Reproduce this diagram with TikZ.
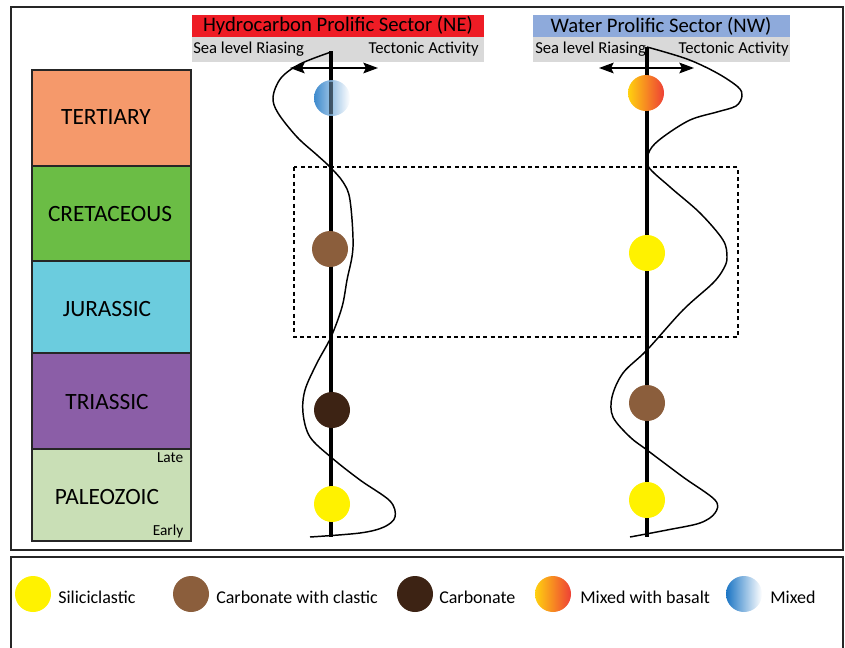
\documentclass[tikz,border=0pt]{standalone}
\usepackage{fontspec}
\setmainfont{Carlito}
\usetikzlibrary{arrows,arrows.meta,positioning}

\definecolor{tertiary}{HTML}{F5996B}
\definecolor{cretaceous}{HTML}{6BBD45}
\definecolor{jurassic}{HTML}{6BCCDE}
\definecolor{triassic}{HTML}{8B5EA7}
\definecolor{paleozoic}{HTML}{C9DFB6}
\definecolor{hcred}{HTML}{EE1C25}
\definecolor{wblue}{HTML}{8EAADB}
\definecolor{bargray}{HTML}{D9D9D9}
\definecolor{silici}{HTML}{FFF200}
\definecolor{carbclast}{HTML}{8B5E3C}
\definecolor{carb}{HTML}{3D2314}
\definecolor{mixblue}{HTML}{1B75C4}
\definecolor{basyel}{HTML}{FFD10F}
\definecolor{basred}{HTML}{EE4036}

\begin{document}
\begin{tikzpicture}[x=0.75pt,y=-0.75pt,>={Stealth[length=11pt,width=8pt,inset=2pt]},
    frame/.style={draw=black!85,line width=1.6pt},
    period/.style={draw=black!85,line width=0.9pt},
    era/.style={font=\fontsize{17.5}{19}\selectfont},
    sub/.style={font=\fontsize{11.5}{13}\selectfont},
    head/.style={font=\fontsize{15.5}{17}\selectfont,inner sep=0pt},
    bar/.style={font=\fontsize{12.5}{14}\selectfont,inner sep=0pt},
    dot/.style={circle,minimum size=27pt,inner sep=0pt},
    key/.style={font=\fontsize{13.5}{15}\selectfont,anchor=west,inner sep=0pt},
    wave/.style={line width=1.1pt,smooth,tension=0.55},
    axis/.style={line width=2.4pt}]

\useasboundingbox (0,0) rectangle (845,647);
\draw[frame] (11,7) rectangle (843,550);
\draw[frame] (11,557) rectangle (843,650);

\foreach \top/\bot/\col/\x/\y/\name in {70/166/tertiary/106/117/TERTIARY,
    166/261/cretaceous/110/214/CRETACEOUS, 261/353/jurassic/107/309/JURASSIC,
    353/449/triassic/107/402/TRIASSIC, 449/541/paleozoic/107/497/PALEOZOIC}
  {
  \draw[period,fill=\col] (32,\top) rectangle (191,\bot);
  \node[era] (\name) at (\x,\y) {\name};
  }
\node[sub,anchor=east] (late) at (188,458) {Late};
\node[sub,anchor=east] (early) at (188,531) {Early};

\fill[hcred] (192,15) rectangle (484,37);
\fill[bargray] (192,37) rectangle (484,62);
\fill[wblue] (533,15) rectangle (790,37);
\fill[bargray] (533,37) rectangle (790,62);
\node[head] (hctitle) at (338,26) {Hydrocarbon Prolific Sector (NE)};
\node[head] (wtitle) at (661,26) {Water Prolific Sector (NW)};
\node[bar,anchor=west] (hcsea) at (193,49) {Sea level Riasing};
\node[bar,anchor=east] (hctect) at (479,49) {Tectonic Activity};
\node[bar,anchor=west] (wsea) at (535,49) {Sea level Riasing};
\node[bar,anchor=east] (wtect) at (789,49) {Tectonic Activity};

\draw[dashed,line width=0.9pt,dash pattern=on 3pt off 2.5pt] (294,167) rectangle (738,337);

\coordinate (hctop) at (331,51);
\coordinate (hcbot) at (331,537);
\coordinate (wtop) at (647,47);
\coordinate (wbot) at (647,537);
\coordinate (hcl) at (290,68);
\coordinate (hcr) at (378,68);
\coordinate (wl) at (599,68);
\coordinate (wr) at (694,68);

\draw[axis] (hctop) -- (hcbot);
\draw[axis] (wtop) -- (wbot);
\draw[<->,line width=1.4pt] (hcl) -- (hcr);
\draw[<->,line width=1.4pt] (wl) -- (wr);

\draw[wave] plot coordinates {(331,52) (300,64) (281,78) (273,97) (278,113)
    (297,137) (317,155) (330,167) (343,182) (350,200) (353,247) (347,280)
    (342,307) (331,337) (317,363) (305,390) (303,413) (310,437) (332,458)
    (360,480) (390,501) (395,517) (384,527) (360,533) (310,537)};
\draw[wave] plot coordinates {(647,47) (687,59) (717,73) (738,87) (742,96)
    (736,106) (717,112) (690,120) (663,137) (650,150) (648,166) (670,187)
    (700,213) (723,240) (727,257) (724,268) (713,283) (683,310) (647,350)
    (623,373) (612,397) (613,417) (630,437) (647,450) (683,477) (715,500)
    (715,513) (700,523) (667,530) (630,537)};

\node[dot,left color=mixblue,right color=white,fill opacity=0.85] (hcmix) at (332,98) {};
\node[dot,fill=carbclast] (hccc) at (330,249) {};
\node[dot,fill=carb] (hccarb) at (332,410) {};
\node[dot,fill=silici] (hcsil) at (332,504) {};
\draw[line width=2.4pt,draw opacity=0.45] (331,82) -- (331,114);
\node[dot,left color=basyel,right color=basred] (wbas) at (646,93) {};
\node[dot,fill=silici] (wsil) at (647,253) {};
\node[dot,fill=carbclast] (wcc) at (647,403) {};
\node[dot,fill=silici] (wsil2) at (647,500) {};

\node[dot,fill=silici] (ksil) at (33,594) {};
\node[key] (tsil) at (58,597) {Siliciclastic};
\node[dot,fill=carbclast] (kcc) at (191,594) {};
\node[key] (tcc) at (216,597) {Carbonate with clastic};
\node[dot,fill=carb] (kcarb) at (415,594) {};
\node[key] (tcarb) at (439,597) {Carbonate};
\node[dot,left color=basyel,right color=basred] (kbas) at (553,594) {};
\node[key] (tbas) at (580,597) {Mixed with basalt};
\node[dot,left color=mixblue,right color=white] (kmix) at (744,594) {};
\node[key] (tmix) at (770,597) {Mixed};
\end{tikzpicture}
\end{document}
